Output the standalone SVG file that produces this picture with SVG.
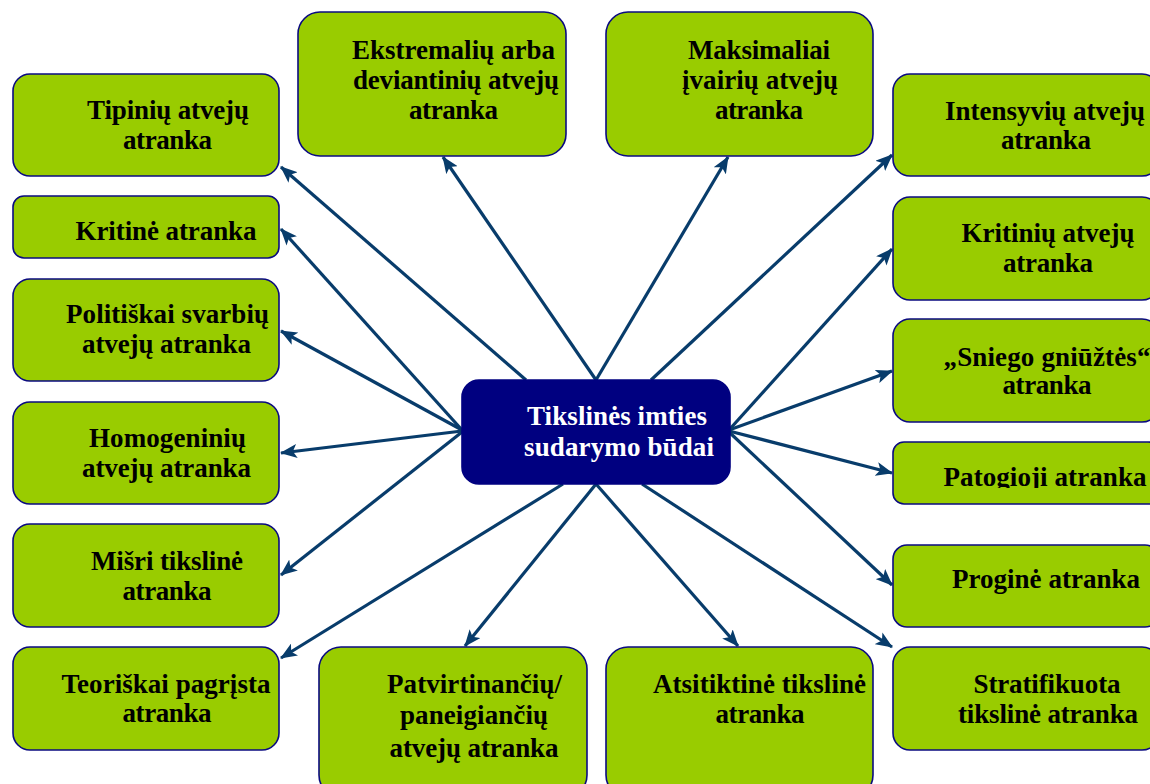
<svg xmlns="http://www.w3.org/2000/svg" width="1150" height="784" viewBox="0 0 1150 784">
<defs>
<style>
.box{fill:#99CC00;stroke:#0A0A80;stroke-width:1.6}
.hub{fill:#000080;stroke:#000080;stroke-width:1.6}
.t{font-family:"Liberation Serif","Times New Roman",serif;font-weight:bold;font-size:27px;fill:#000;text-anchor:middle}
.w{fill:#fff}
.c{stroke:#083C6B;stroke-width:3.2;fill:none;marker-end:url(#ah)}
</style>
<marker id="ah" markerWidth="17" markerHeight="14" refX="16" refY="7" orient="auto" markerUnits="userSpaceOnUse">
<path d="M0,0 L17,7 L0,14 L4,7 z" fill="#083C6B"/>
</marker>
<clipPath id="clipPat"><rect x="893" y="440" width="270" height="48"/></clipPath>
</defs>
<rect width="1150" height="784" fill="#fff"/>
<g id="connectors">
<line class="c" x1="526" y1="380" x2="281" y2="167"/>
<line class="c" x1="462" y1="430" x2="281" y2="229"/>
<line class="c" x1="462" y1="430" x2="281" y2="331"/>
<line class="c" x1="462" y1="431" x2="281" y2="453"/>
<line class="c" x1="462" y1="432" x2="281" y2="575"/>
<line class="c" x1="563" y1="484" x2="281" y2="658"/>
<line class="c" x1="596" y1="380" x2="443" y2="157"/>
<line class="c" x1="596" y1="380" x2="728" y2="157"/>
<line class="c" x1="651" y1="380" x2="892" y2="155"/>
<line class="c" x1="729" y1="430" x2="892" y2="249"/>
<line class="c" x1="729" y1="430" x2="892" y2="371"/>
<line class="c" x1="729" y1="431" x2="892" y2="473"/>
<line class="c" x1="729" y1="432" x2="892" y2="585"/>
<line class="c" x1="642" y1="484" x2="892" y2="647"/>
<line class="c" x1="596" y1="484" x2="738" y2="646"/>
<line class="c" x1="596" y1="484" x2="465" y2="646"/>
</g>
<g id="center">
<rect class="hub" x="462" y="380" width="268" height="104" rx="17"/>
<text class="t w" x="617" y="425" textLength="180">Tikslinės imties</text>
<text class="t w" x="619" y="456" textLength="190">sudarymo būdai</text>
</g>
<g id="tipiniu">
<rect class="box" x="13" y="74" width="266" height="102" rx="17"/>
<text class="t" x="168" y="119" textLength="162">Tipinių atvejų</text>
<text class="t" x="167.5" y="149" textLength="89">atranka</text>
</g>
<g id="kritine">
<rect class="box" x="13" y="196" width="266" height="62" rx="11"/>
<text class="t" x="166" y="240" textLength="181">Kritinė atranka</text>
</g>
<g id="politiskai">
<rect class="box" x="13" y="279" width="266" height="102" rx="17"/>
<text class="t" x="167.5" y="323" textLength="203">Politiškai svarbių</text>
<text class="t" x="166.5" y="353" textLength="169">atvejų atranka</text>
</g>
<g id="homogeniniu">
<rect class="box" x="13" y="402" width="266" height="102" rx="17"/>
<text class="t" x="167.5" y="447" textLength="157">Homogeninių</text>
<text class="t" x="166.5" y="477" textLength="169">atvejų atranka</text>
</g>
<g id="misri">
<rect class="box" x="13" y="524" width="266" height="103" rx="17"/>
<text class="t" x="167" y="570" textLength="152">Mišri tikslinė</text>
<text class="t" x="167" y="600" textLength="89">atranka</text>
</g>
<g id="teoriskai">
<rect class="box" x="13" y="647" width="266" height="103" rx="17"/>
<text class="t" x="166" y="693" textLength="209">Teoriškai pagrįsta</text>
<text class="t" x="167" y="722" textLength="89">atranka</text>
</g>
<g id="ekstremaliu">
<rect class="box" x="298" y="12" width="268" height="144" rx="22"/>
<text class="t" x="453.5" y="59" textLength="203">Ekstremalių arba</text>
<text class="t" x="456" y="89" textLength="206">deviantinių atvejų</text>
<text class="t" x="453.5" y="119" textLength="89">atranka</text>
</g>
<g id="maksimaliai">
<rect class="box" x="606" y="12" width="267" height="144" rx="22"/>
<text class="t" x="759" y="59" textLength="142">Maksimaliai</text>
<text class="t" x="760" y="89" textLength="156">įvairių atvejų</text>
<text class="t" x="759" y="119" textLength="88">atranka</text>
</g>
<g id="intensyviu">
<rect class="box" x="893" y="74" width="266" height="102" rx="17"/>
<text class="t" x="1045" y="120" textLength="200">Intensyvių atvejų</text>
<text class="t" x="1046" y="149" textLength="90">atranka</text>
</g>
<g id="kritiniu">
<rect class="box" x="893" y="197" width="266" height="103" rx="17"/>
<text class="t" x="1048" y="242" textLength="173">Kritinių atvejų</text>
<text class="t" x="1048" y="272" textLength="90">atranka</text>
</g>
<g id="sniego">
<rect class="box" x="893" y="319" width="266" height="103" rx="17"/>
<text class="t" x="1047" y="366" textLength="207">„Sniego gniūžtės“</text>
<text class="t" x="1047" y="394" textLength="89">atranka</text>
</g>
<g id="patogioji">
<rect class="box" x="893" y="442" width="266" height="62" rx="11"/>
<text class="t" x="1045" y="486" textLength="203" clip-path="url(#clipPat)">Patogioji atranka</text>
</g>
<g id="progine">
<rect class="box" x="893" y="545" width="266" height="82" rx="14"/>
<text class="t" x="1046" y="588" textLength="188">Proginė atranka</text>
</g>
<g id="stratifikuota">
<rect class="box" x="893" y="647" width="266" height="103" rx="17"/>
<text class="t" x="1047" y="693" textLength="147">Stratifikuota</text>
<text class="t" x="1048" y="723" textLength="180">tikslinė atranka</text>
</g>
<g id="patvirtinanciu">
<rect class="box" x="319" y="647" width="268" height="150" rx="22"/>
<text class="t" x="474.5" y="693" textLength="175">Patvirtinančių/</text>
<text class="t" x="474" y="724" textLength="148">paneigiančių</text>
<text class="t" x="474" y="757" textLength="169">atvejų atranka</text>
</g>
<g id="atsitiktine">
<rect class="box" x="606" y="647" width="267" height="150" rx="22"/>
<text class="t" x="759.5" y="693" textLength="213">Atsitiktinė tikslinė</text>
<text class="t" x="760" y="723" textLength="89">atranka</text>
</g>
</svg>
